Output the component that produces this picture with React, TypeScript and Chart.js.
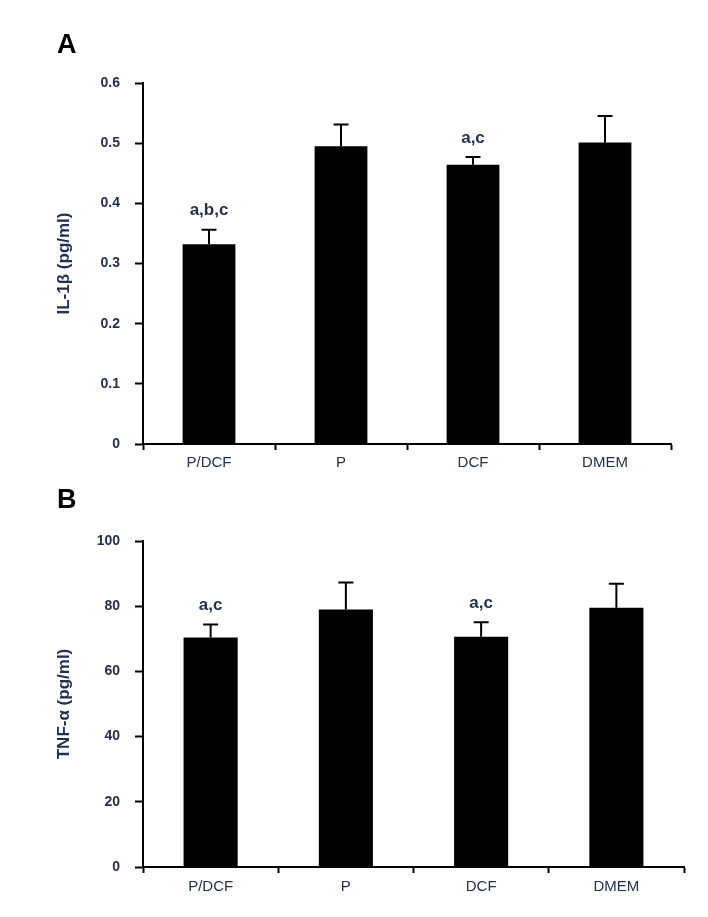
import React, { useEffect, useRef } from 'react';
import { Chart, registerables } from 'chart.js';

Chart.register(...registerables);

const categories = ['P/DCF', 'P', 'DCF', 'DMEM'];

const il1bMeans = [0.332, 0.495, 0.464, 0.501];
const il1bErrors = [0.024, 0.036, 0.013, 0.044];
const il1bMarks = ['a,b,c', '', 'a,c', ''];
const il1bTicks = [0, 0.1, 0.2, 0.3, 0.4, 0.5, 0.6];
const il1bTickLabels = ['0', '0.1', '0.2', '0.3', '0.4', '0.5', '0.6'];

const tnfMeans = [70.4, 79.0, 70.6, 79.5];
const tnfErrors = [4.0, 8.3, 4.5, 7.4];
const tnfMarks = ['a,c', '', 'a,c', ''];
const tnfTicks = [0, 20, 40, 60, 80, 100];
const tnfTickLabels = ['0', '20', '40', '60', '80', '100'];

const FONT = '"Liberation Sans", Arial, sans-serif';
const TEXT = '#22314f';

type PanelSpec = {
  letter: string;
  letterBaseline: number;
  title: string;
  means: number[];
  errors: number[];
  marks: string[];
  ticks: number[];
  tickLabels: string[];
  padTop: number;
  padRight: number;
  xHeight: number;
  xPad: number;
};

function makeOverlay(spec: PanelSpec) {
  return {
    id: 'overlay' + spec.letter,
    afterDatasetsDraw(chart: any) {
      const ctx = chart.ctx;
      const meta = chart.getDatasetMeta(0);
      const y = chart.scales.y;
      const data = chart.data.datasets[0].data as number[];
      ctx.save();
      meta.data.forEach((bar: any, i: number) => {
        const top = y.getPixelForValue(data[i]);
        const tip = y.getPixelForValue(data[i] + spec.errors[i]);
        ctx.strokeStyle = '#000';
        ctx.lineWidth = 2;
        ctx.beginPath();
        ctx.moveTo(bar.x, top);
        ctx.lineTo(bar.x, tip);
        ctx.moveTo(bar.x - 7.5, tip);
        ctx.lineTo(bar.x + 7.5, tip);
        ctx.stroke();
        if (spec.marks[i]) {
          ctx.fillStyle = TEXT;
          ctx.font = `bold 17px ${FONT}`;
          ctx.textAlign = 'center';
          ctx.textBaseline = 'middle';
          ctx.fillText(spec.marks[i], bar.x, tip - 19);
        }
      });
      ctx.restore();
    },
    afterDraw(chart: any) {
      const ctx = chart.ctx;
      ctx.save();
      ctx.fillStyle = '#000';
      ctx.font = `bold 27px ${FONT}`;
      ctx.textAlign = 'left';
      ctx.textBaseline = 'alphabetic';
      ctx.fillText(spec.letter, 57, spec.letterBaseline);
      ctx.restore();
    },
  };
}

function Panel({ spec, top, height }: { spec: PanelSpec; top: number; height: number }) {
  const ref = useRef<HTMLCanvasElement | null>(null);
  useEffect(() => {
    if (!ref.current) return;
    const chart = new Chart(ref.current, {
      type: 'bar',
      data: {
        labels: categories,
        datasets: [
          {
            data: spec.means,
            backgroundColor: '#000',
            borderWidth: 0,
            barPercentage: 0.4,
            categoryPercentage: 1,
          },
        ],
      },
      options: {
        responsive: false,
        animation: false,
        devicePixelRatio: 1,
        layout: { padding: { top: spec.padTop, right: spec.padRight, left: 50, bottom: 0 } },
        plugins: { legend: { display: false }, tooltip: { enabled: false } },
        scales: {
          x: {
            afterFit: (s: any) => {
              s.height = spec.xHeight;
            },
            border: { display: true, color: '#000', width: 2 },
            grid: {
              offset: true,
              drawOnChartArea: false,
              drawTicks: true,
              tickLength: 6,
              tickColor: '#000',
              tickWidth: 2,
            },
            ticks: {
              color: TEXT,
              padding: spec.xPad,
              font: { family: FONT, size: 15 },
            },
          },
          y: {
            min: spec.ticks[0],
            max: spec.ticks[spec.ticks.length - 1],
            afterFit: (s: any) => {
              s.width = 93;
            },
            afterBuildTicks: (s: any) => {
              s.ticks = spec.ticks.map((v) => ({ value: v }));
            },
            border: { display: true, color: '#000', width: 2 },
            grid: {
              drawOnChartArea: false,
              drawTicks: true,
              tickLength: 8,
              tickColor: '#000',
              tickWidth: 2,
            },
            ticks: {
              color: TEXT,
              padding: 15,
              font: { family: FONT, size: 14, weight: 'bold' },
              callback: (v: any) => {
                const idx = spec.ticks.indexOf(Number(v));
                return idx >= 0 ? spec.tickLabels[idx] : '';
              },
            },
            title: {
              display: true,
              text: spec.title,
              color: TEXT,
              font: { family: FONT, size: 17, weight: 'bold' },
              padding: { top: 4, bottom: 4 },
            },
          },
        },
      },
      plugins: [makeOverlay(spec)],
    } as any);
    return () => chart.destroy();
  }, []);
  return (
    <canvas
      ref={ref}
      width={708}
      height={height}
      style={{ position: 'absolute', left: 0, top, width: 708, height }}
    />
  );
}

const specA: PanelSpec = {
  letter: 'A',
  letterBaseline: 53,
  title: 'IL-1β (pg/ml)',
  means: il1bMeans,
  errors: il1bErrors,
  marks: il1bMarks,
  ticks: il1bTicks,
  tickLabels: il1bTickLabels,
  padTop: 83,
  padRight: 37,
  xHeight: 31,
  xPad: 4,
};

const specB: PanelSpec = {
  letter: 'B',
  letterBaseline: 33,
  title: 'TNF-α (pg/ml)',
  means: tnfMeans,
  errors: tnfErrors,
  marks: tnfMarks,
  ticks: tnfTicks,
  tickLabels: tnfTickLabels,
  padTop: 66,
  padRight: 24,
  xHeight: 50,
  xPad: 5,
};

export default function App() {
  return (
    <div style={{ position: 'absolute', left: 0, top: 0, width: 708, height: 917, background: '#fff' }}>
      <Panel spec={specA} top={0} height={475} />
      <Panel spec={specB} top={475} height={442} />
    </div>
  );
}
